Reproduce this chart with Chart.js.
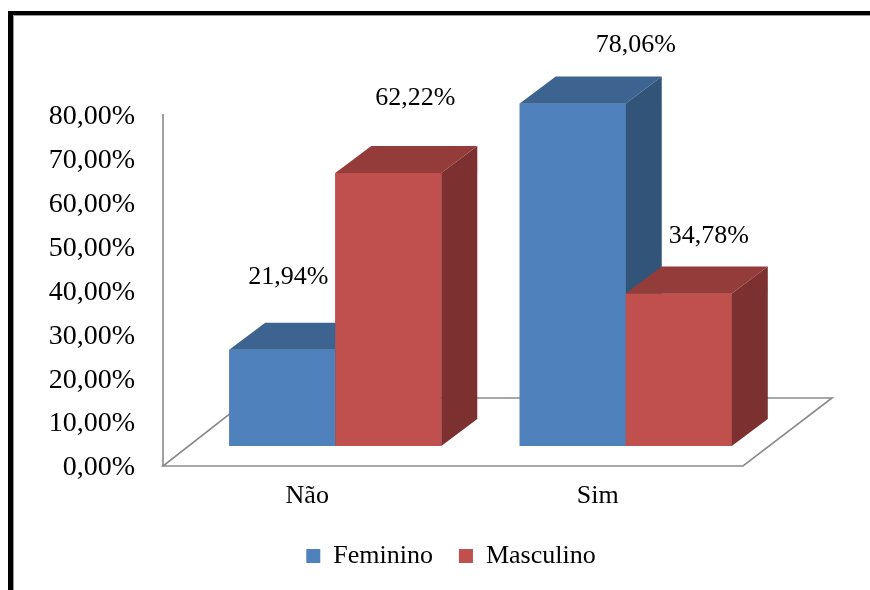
<!DOCTYPE html>
<html>
<head>
<meta charset="utf-8">
<script src="https://cdn.jsdelivr.net/npm/chart.js@4.4.1/dist/chart.umd.min.js"></script>
<style>
  html, body { margin: 0; padding: 0; background: #fff; overflow: hidden; }
  #wrap { position: relative; width: 870px; height: 590px; overflow: hidden; }
  #chart { position: absolute; left: 0; top: 0; }
  #frame {
    position: absolute; left: 8px; top: 11px; width: 900px; height: 620px;
    border-left: 5px solid #000; border-top: 4px solid #000;
    box-shadow: inset 1px 1px 0 #9a9a9a;
  }
</style>
</head>
<body>
<div id="wrap">
  <canvas id="chart" width="902" height="590"></canvas>
  <div id="frame"></div>
</div>
<script>
const categories = ['Não', 'Sim'];
const feminino = [21.94, 78.06];
const masculino = [62.22, 34.78];
const yMin = 0, yMax = 80, yStep = 10;

const pct = v => v.toFixed(2).replace('.', ',') + '%';
const serif = "'Liberation Serif', 'Times New Roman', serif";

// 3d look: bar depth and floor offsets (front plane / back plane), in px
const depth = { dx: 36, dy: -27 };
const floorFront = { dx: -27, dy: 20 };
const floorBack = { dx: 61, dy: -48 };

function poly(ctx, pts) {
  ctx.beginPath();
  ctx.moveTo(pts[0][0], pts[0][1]);
  for (let i = 1; i < pts.length; i++) ctx.lineTo(pts[i][0], pts[i][1]);
  ctx.closePath();
}

const bars3d = {
  id: 'bars3d',
  beforeDatasetsDraw(chart) {
    const ctx = chart.ctx;
    const area = chart.chartArea;
    const y = chart.scales.y;
    const y0 = y.getPixelForValue(yMin);
    const fl = area.left + floorFront.dx, fr = area.right + floorFront.dx - 1;
    const fy = y0 + floorFront.dy;
    ctx.save();
    ctx.strokeStyle = '#8a8a8a';
    ctx.lineWidth = 1.6;
    poly(ctx, [[fl, fy], [fr, fy],
      [area.right + floorBack.dx, y0 + floorBack.dy],
      [area.left + floorBack.dx - 1, y0 + floorBack.dy]]);
    ctx.stroke();
    ctx.beginPath();
    ctx.moveTo(fl, fy);
    ctx.lineTo(fl, y.getPixelForValue(yMax) + 19);
    ctx.stroke();
    ctx.restore();
  },
  afterDatasetsDraw(chart, args, opts) {
    const ctx = chart.ctx;
    const sets = chart.data.datasets;
    ctx.save();
    // draw each group left to right so the right bar covers its neighbour's side
    categories.forEach((c, i) => {
      sets.forEach((ds, di) => {
        const p = chart.getDatasetMeta(di).data[i].getProps(['x', 'y', 'base', 'width'], true);
        const l = p.x - p.width / 2, r = p.x + p.width / 2;
        ctx.fillStyle = ds.backgroundColor;
        ctx.fillRect(l, p.y, p.width, p.base - p.y);
        ctx.fillStyle = ds.topColor;
        poly(ctx, [[l, p.y], [r, p.y], [r + depth.dx, p.y + depth.dy], [l + depth.dx, p.y + depth.dy]]);
        ctx.fill();
        ctx.fillStyle = ds.sideColor;
        poly(ctx, [[r, p.y], [r + depth.dx, p.y + depth.dy], [r + depth.dx, p.base + depth.dy], [r, p.base]]);
        ctx.fill();
      });
    });
    ctx.font = '26px ' + serif;
    ctx.fillStyle = '#000';
    ctx.textAlign = 'center';
    ctx.textBaseline = 'middle';
    sets.forEach((ds, di) => {
      chart.getDatasetMeta(di).data.forEach((bar, i) => {
        const s = opts.labelShift[di][i];
        ctx.fillText(pct(ds.data[i]), bar.x + s[0], bar.y + s[1]);
      });
    });
    ctx.restore();
  }
};

new Chart(document.getElementById('chart'), {
  type: 'bar',
  data: {
    labels: categories,
    datasets: [
      {
        label: 'Feminino', data: feminino,
        backgroundColor: '#4F81BD', topColor: '#3D6491', sideColor: '#325479',
        borderWidth: 0, categoryPercentage: 0.73, barPercentage: 1.0
      },
      {
        label: 'Masculino', data: masculino,
        backgroundColor: '#C0504D', topColor: '#943C3A', sideColor: '#7C3130',
        borderWidth: 0, categoryPercentage: 0.73, barPercentage: 1.0
      }
    ]
  },
  options: {
    responsive: false,
    animation: false,
    layout: { padding: { left: 0, right: 0, top: 95, bottom: 11 } },
    scales: {
      x: {
        grid: { display: false, drawTicks: false },
        border: { display: false },
        ticks: { color: '#000', font: { family: serif, size: 26 }, padding: 35, labelOffset: -28 },
        afterFit(scale) { scale.height = 71; }
      },
      y: {
        min: yMin, max: yMax,
        grid: { display: false, drawTicks: false },
        border: { display: false },
        ticks: {
          stepSize: yStep, color: '#000', padding: 55, labelOffset: 22,
          font: { family: serif, size: 28 },
          callback: v => pct(v)
        },
        afterFit(scale) { scale.width = 190; }
      },
      yRight: {
        position: 'right', display: true, min: 0, max: 1,
        grid: { display: false, drawTicks: false },
        border: { display: false },
        ticks: { display: false },
        afterFit(scale) { scale.width = 131; }
      }
    },
    plugins: {
      legend: {
        position: 'bottom',
        labels: {
          color: '#000', font: { family: serif, size: 26 },
          boxWidth: 14, boxHeight: 14, padding: 26
        }
      },
      tooltip: { enabled: false },
      bars3d: {
        labelShift: [
          [[6, -73], [63, -58]],
          [[27, -75], [30, -57]]
        ]
      }
    }
  },
  plugins: [bars3d]
});
</script>
</body>
</html>
